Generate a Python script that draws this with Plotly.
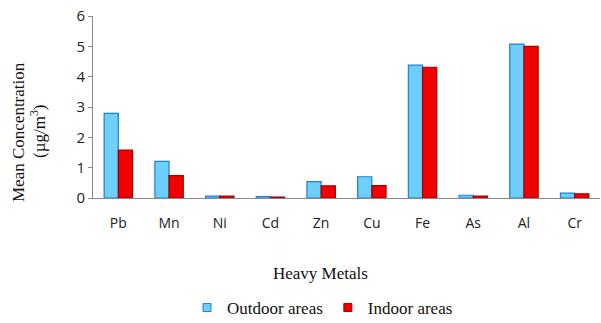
import plotly.graph_objects as go

metals = ["Pb", "Mn", "Ni", "Cd", "Zn", "Cu", "Fe", "As", "Al", "Cr"]
outdoor = [2.79, 1.21, 0.06, 0.05, 0.54, 0.70, 4.38, 0.09, 5.07, 0.16]
indoor = [1.58, 0.74, 0.06, 0.03, 0.40, 0.41, 4.31, 0.06, 5.00, 0.14]
y_ticks = [0, 1, 2, 3, 4, 5, 6]

serif = "Liberation Serif, Times New Roman, serif"
sans = "Open Sans, Liberation Sans, sans-serif"
c_out, e_out = "#6ECFFA", "#1F7FD6"
c_in, e_in = "#F20000", "#A00000"

fig = go.Figure()
fig.add_trace(go.Bar(x=metals, y=outdoor, name="Outdoor areas", showlegend=False,
                     marker=dict(color=c_out, line=dict(color=e_out, width=1.2))))
fig.add_trace(go.Bar(x=metals, y=indoor, name="Indoor areas", showlegend=False,
                     marker=dict(color=c_in, line=dict(color=e_in, width=1.2))))
# legend-only entries with small square symbols
fig.add_trace(go.Scatter(x=[None], y=[None], mode="markers", name="Outdoor areas",
                         marker=dict(symbol="square", size=8, color=c_out, line=dict(color=e_out, width=1))))
fig.add_trace(go.Scatter(x=[None], y=[None], mode="markers", name="Indoor areas",
                         marker=dict(symbol="square", size=8, color=c_in, line=dict(color=e_in, width=1))))

L, R, T, B = 93, 1, 16, 125
W, H = 601, 323
pw, ph = W - L - R, H - T - B

def px(x):
    return (x - L) / pw

def py(y):
    return (H - B - y) / ph

fig.update_layout(
    width=W, height=H,
    margin=dict(l=L, r=R, t=T, b=B, autoexpand=False),
    paper_bgcolor="white", plot_bgcolor="white",
    barmode="group", bargap=0.44, bargroupgap=0,
    showlegend=True,
    legend=dict(orientation="h", x=px(187), xref="paper", xanchor="left", y=py(308), yanchor="middle",
                font=dict(family=serif, size=17, color="#111"), traceorder="normal",
                itemwidth=30, bgcolor="rgba(0,0,0,0)"),
    xaxis=dict(showline=True, linecolor="#888", linewidth=1, ticks="", showgrid=False,
               tickfont=dict(family=sans, size=14, color="#222"), ticklabelstandoff=12),
    yaxis=dict(range=[0, 6], tickvals=y_ticks, showline=True, linecolor="#888", linewidth=1,
               ticks="outside", ticklen=4, tickcolor="#888", showgrid=False, zeroline=False,
               tickfont=dict(family=sans, size=15, color="#222")),
    annotations=[
        dict(text="Mean Concentration", textangle=-90, x=px(18), y=py(132),
             xref="paper", yref="paper", xanchor="center", yanchor="middle", showarrow=False,
             font=dict(family=serif, size=17, color="#111")),
        dict(text="(µg/m<sup>3</sup>)", textangle=-90, x=px(38), y=py(131),
             xref="paper", yref="paper", xanchor="center", yanchor="middle", showarrow=False,
             font=dict(family=serif, size=17, color="#111")),
        dict(text="Heavy Metals", x=px(320), y=py(273), xref="paper", yref="paper",
             xanchor="center", yanchor="middle",
             showarrow=False, font=dict(family=serif, size=17, color="#111")),
    ],
)

fig.write_html("out.html", config={"displayModeBar": False},
               post_script="document.body.style.margin='0';")
